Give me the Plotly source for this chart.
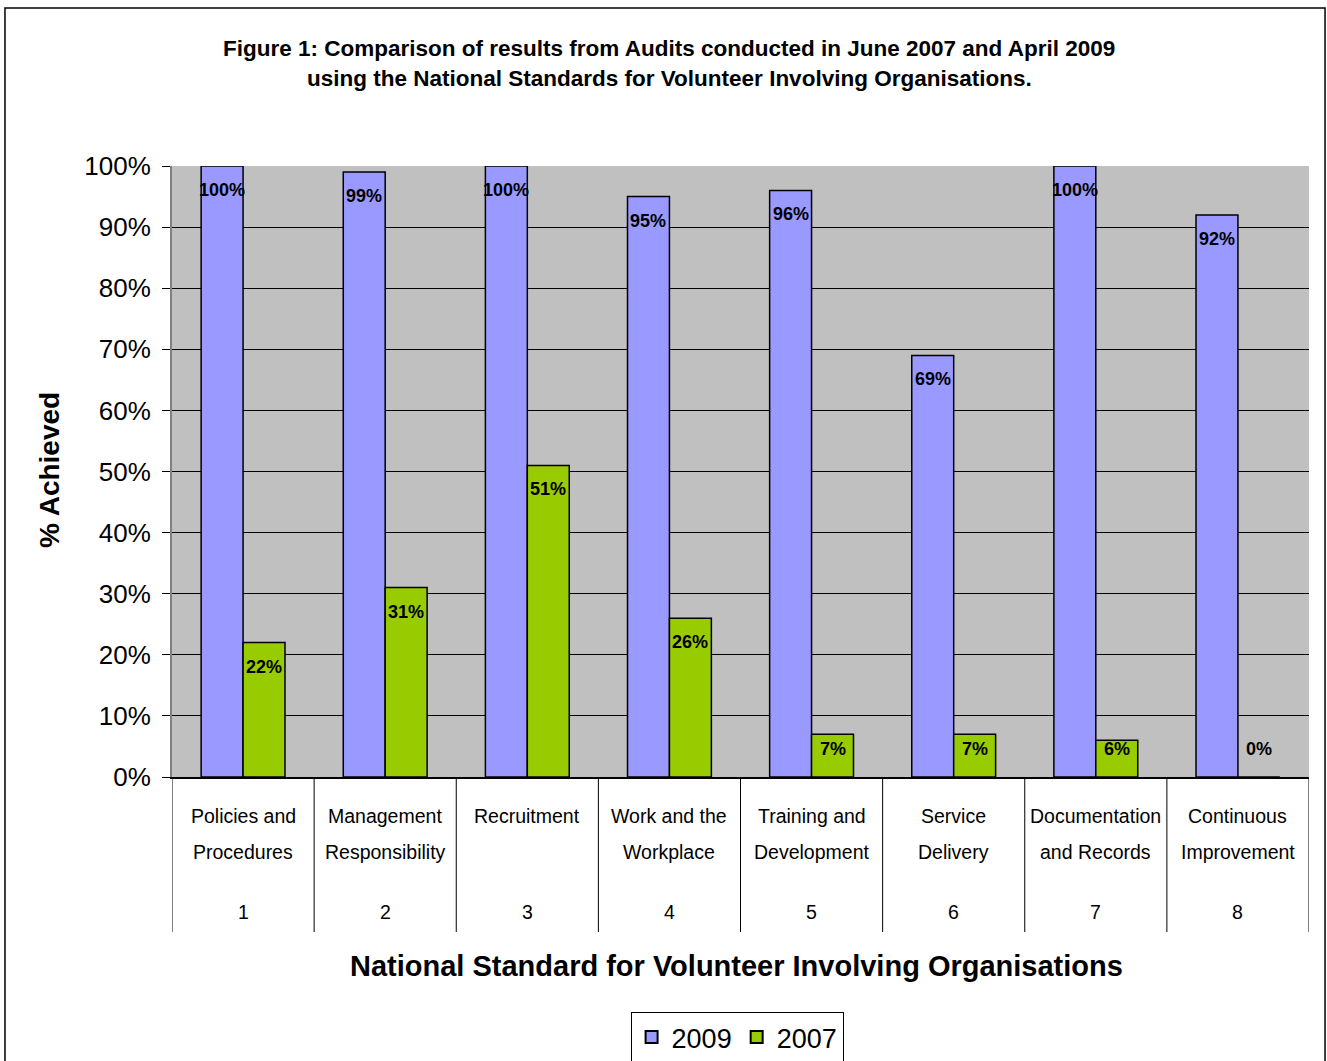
import plotly.graph_objects as go

# Audit results per National Standard (share of indicators achieved)
standard_numbers = [1, 2, 3, 4, 5, 6, 7, 8]
standard_names = [
    ["Policies and", "Procedures"],
    ["Management", "Responsibility"],
    ["Recruitment", ""],
    ["Work and the", "Workplace"],
    ["Training and", "Development"],
    ["Service", "Delivery"],
    ["Documentation", "and Records"],
    ["Continuous", "Improvement"],
]
results_2009 = [1.00, 0.99, 1.00, 0.95, 0.96, 0.69, 1.00, 0.92]
results_2007 = [0.22, 0.31, 0.51, 0.26, 0.07, 0.07, 0.06, 0.00]
y_ticks = [0, 0.1, 0.2, 0.3, 0.4, 0.5, 0.6, 0.7, 0.8, 0.9, 1.0]
y_tick_text = ["0%", "10%", "20%", "30%", "40%", "50%", "60%", "70%", "80%", "90%", "100%"]

BLUE = "#9999FF"
GREEN = "#99CC00"
PLOT_BG = "#C0C0C0"
FONT = "Liberation Sans, Arial, sans-serif"
BAR_W = 0.295

fig = go.Figure()
fig.add_trace(go.Bar(
    name="2009", x=standard_numbers, y=results_2009,
    width=BAR_W, offset=-BAR_W,
    marker=dict(color=BLUE, line=dict(color="black", width=1.5)),
))
fig.add_trace(go.Bar(
    name="2007", x=standard_numbers, y=results_2007,
    width=BAR_W, offset=0,
    marker=dict(color=GREEN, line=dict(color="black", width=1.5)),
))

annotations = []

# value labels: just inside the top of each bar, kept above the baseline for short bars
def value_label(xpos, val):
    if val < 0.085:
        y, shift = 0, 28
    else:
        y, shift = val, -24
    return dict(x=xpos, y=y, xref="x", yref="y", text=f"<b>{round(val * 100)}%</b>",
                showarrow=False, yshift=shift, yanchor="middle",
                font=dict(family=FONT, size=18, color="black"))

for n, v in zip(standard_numbers, results_2009):
    annotations.append(value_label(n - BAR_W / 2, v))
for n, v in zip(standard_numbers, results_2007):
    annotations.append(value_label(n + BAR_W / 2, v))

# two-line category names with the standard number beneath
for n, (l1, l2) in zip(standard_numbers, standard_names):
    for text, shift in ((l1, -39), (l2, -75), (str(n), -135)):
        if text:
            annotations.append(dict(x=n, y=0, xref="x", yref="paper", text=text,
                                    showarrow=False, yshift=shift, yanchor="middle",
                                    font=dict(family=FONT, size=19.5, color="black")))

# titles
annotations += [
    dict(x=0.4375, y=1.1915, xref="paper", yref="paper", showarrow=False, yanchor="middle",
         text="<b>Figure 1: Comparison of results from Audits conducted in June 2007 and April 2009</b>",
         font=dict(family=FONT, size=22.5, color="black")),
    dict(x=0.4375, y=1.1424, xref="paper", yref="paper", showarrow=False, yanchor="middle",
         text="<b>using the National Standards for Volunteer Involving Organisations.</b>",
         font=dict(family=FONT, size=22.5, color="black")),
    dict(x=0.4969, y=-0.3093, xref="paper", yref="paper", showarrow=False, yanchor="middle",
         text="<b>National Standard for Volunteer Involving Organisations</b>",
         font=dict(family=FONT, size=29, color="black")),
    dict(x=-0.1073, y=0.5025, xref="paper", yref="paper", showarrow=False,
         xanchor="center", yanchor="middle", textangle=-90,
         text="<b>% Achieved</b>", font=dict(family=FONT, size=28, color="black")),
]

shapes = []
# separators between category cells below the axis
for b in [0.5 + i for i in range(len(standard_numbers) + 1)]:
    shapes.append(dict(type="line", xref="x", yref="paper", x0=b, x1=b, y0=0, y1=-0.2537,
                       line=dict(color="black", width=1)))
# the top edge of the plot area carries no grid line
shapes.append(dict(type="line", xref="paper", yref="y", x0=0, x1=1, y0=1, y1=1,
                   layer="between", line=dict(color=PLOT_BG, width=2)))
# outer chart frame
shapes.append(dict(type="rect", xref="paper", yref="paper",
                   x0=-0.1469, x1=1.0141, y0=-0.48, y1=1.2586,
                   line=dict(color="black", width=1.5), fillcolor="rgba(0,0,0,0)"))

fig.update_layout(
    width=1327, height=1061,
    margin=dict(l=172, r=18, t=166, b=284, autoexpand=False),
    paper_bgcolor="white",
    plot_bgcolor=PLOT_BG,
    barmode="overlay",
    showlegend=True,
    legend=dict(orientation="h", x=0.497, xanchor="center", y=-0.3846, yanchor="top",
                bordercolor="black", borderwidth=1, bgcolor="white",
                font=dict(family=FONT, size=27, color="black"),
                itemsizing="constant"),
    annotations=annotations,
    shapes=shapes,
    xaxis=dict(range=[0.5, 8.5], showticklabels=False, ticks="", showgrid=False,
               zeroline=False, showline=True, linecolor="black", linewidth=1.5, fixedrange=True),
    yaxis=dict(range=[0, 1], tickvals=y_ticks, ticktext=y_tick_text,
               ticks="outside", ticklen=8, tickcolor="black", tickwidth=1,
               ticklabelstandoff=6,
               showgrid=True, gridcolor="black", gridwidth=1, zeroline=False,
               showline=True, linecolor="#808080", linewidth=2,
               tickfont=dict(family=FONT, size=26, color="black"), fixedrange=True),
)

fig.write_html("out.html")
